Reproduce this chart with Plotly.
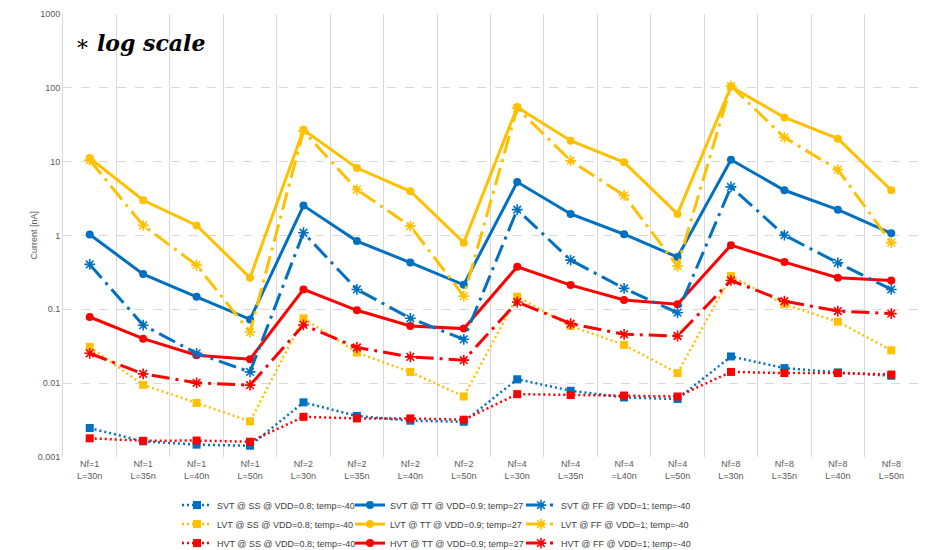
import plotly.graph_objects as go

categories = [
    "Nf=1<br>L=30n", "Nf=1<br>L=35n", "Nf=1<br>L=40n", "Nf=1<br>L=50n",
    "Nf=2<br>L=30n", "Nf=2<br>L=35n", "Nf=2<br>L=40n", "Nf=2<br>L=50n",
    "Nf=4<br>L=30n", "Nf=4<br>L=35n", "Nf=4<br>=L40n", "Nf=4<br>L=50n",
    "Nf=8<br>L=30n", "Nf=8<br>L=35n", "Nf=8<br>L=40n", "Nf=8<br>L=50n",
]

# Leakage current in nA per corner
svt_ss = [0.00247, 0.00163, 0.00147, 0.00142, 0.0055, 0.0036, 0.0031, 0.0030,
          0.0113, 0.0079, 0.0064, 0.0061, 0.023, 0.016, 0.014, 0.0126]
svt_tt = [1.03, 0.30, 0.148, 0.073, 2.54, 0.84, 0.43, 0.215,
          5.3, 1.96, 1.04, 0.51, 10.6, 4.1, 2.24, 1.07]
svt_ff = [0.406, 0.061, 0.0254, 0.0142, 1.09, 0.186, 0.0756, 0.0393,
          2.24, 0.464, 0.192, 0.090, 4.55, 1.01, 0.427, 0.186]

lvt_ss = [0.031, 0.0095, 0.0054, 0.00304, 0.0756, 0.026, 0.0142, 0.0066,
          0.148, 0.0595, 0.033, 0.0137, 0.282, 0.117, 0.068, 0.0279]
lvt_tt = [11.2, 3.0, 1.37, 0.268, 27.0, 8.2, 3.97, 0.80,
          54.8, 19.2, 9.8, 1.96, 104.0, 39.7, 20.5, 4.1]
lvt_ff = [10.5, 1.37, 0.397, 0.0493, 26.0, 4.19, 1.34, 0.151,
          53.0, 10.3, 3.5, 0.385, 106.0, 21.3, 7.8, 0.80]

hvt_ss = [0.00179, 0.00166, 0.00167, 0.00161, 0.0035, 0.00333, 0.00333, 0.0032,
          0.0071, 0.0069, 0.0068, 0.0066, 0.0142, 0.0137, 0.0137, 0.0131]
hvt_tt = [0.0787, 0.040, 0.0239, 0.0211, 0.186, 0.097, 0.0595, 0.0548,
          0.377, 0.213, 0.134, 0.117, 0.74, 0.436, 0.268, 0.246]
hvt_ff = [0.0254, 0.01335, 0.0101, 0.0094, 0.0614, 0.0304, 0.0227, 0.0205,
          0.1256, 0.064, 0.0459, 0.0435, 0.246, 0.129, 0.0948, 0.0875]

y_tick_vals = [0.001, 0.01, 0.1, 1, 10, 100, 1000]
y_tick_text = ["0.001", "0.01", "0.1", "1", "10", "100", "1000"]

BLUE = "#0070C0"
GOLD = "#FFC000"
RED = "#FF0000"

SS_DASH = "2px,3px"
FF_DASH = "18px,6px,3px,6px"

# one legend column per process corner
series = [
    ("SVT @ SS @ VDD=0.8; temp=-40", svt_ss, BLUE, "ss"),
    ("LVT @ SS @ VDD=0.8; temp=-40", lvt_ss, GOLD, "ss"),
    ("HVT @ SS @ VDD=0.8; temp=-40", hvt_ss, RED, "ss"),
    ("SVT @ TT @ VDD=0.9; temp=27", svt_tt, BLUE, "tt"),
    ("LVT @ TT @ VDD=0.9; temp=27", lvt_tt, GOLD, "tt"),
    ("HVT @ TT @ VDD=0.9; temp=27", hvt_tt, RED, "tt"),
    ("SVT @ FF @ VDD=1; temp=-40", svt_ff, BLUE, "ff"),
    ("LVT @ FF @ VDD=1; temp=-40", lvt_ff, GOLD, "ff"),
    ("HVT @ FF @ VDD=1; temp=-40", hvt_ff, RED, "ff"),
]
legend_for = {"ss": "legend", "tt": "legend2", "ff": "legend3"}

fig = go.Figure()
for name, values, color, corner in series:
    if corner == "ss":
        line = dict(color=color, width=2.5, dash=SS_DASH)
        marker = dict(symbol="square", size=8, color=color)
    elif corner == "tt":
        line = dict(color=color, width=3)
        marker = dict(symbol="circle", size=8, color=color)
    else:
        line = dict(color=color, width=3, dash=FF_DASH)
        marker = dict(symbol="asterisk-open", size=9, color=color,
                      line=dict(color=color, width=1.6))
    fig.add_trace(go.Scatter(
        x=categories, y=values, name=name, mode="lines+markers",
        line=line, marker=marker, legend=legend_for[corner],
    ))

fig.add_annotation(
    x=0.012, y=0.935, xref="paper", yref="paper",
    xanchor="left", yanchor="middle", showarrow=False,
    text="∗ <b><i>log scale</i></b>",
    font=dict(family="DejaVu Serif", size=22, color="#000000"),
)

# vertical axis title
fig.add_annotation(
    x=(33 - 63) / 855, y=0.5, xref="x domain", yref="paper",
    xanchor="center", yanchor="middle", showarrow=False, textangle=-90,
    text="Current [nA]",
    font=dict(family="Liberation Sans", size=9, color="#595959"),
)

legend_common = dict(
    orientation="v", xref="container", yref="container",
    xanchor="left", yanchor="top", y=0.108,
    font=dict(family="Liberation Sans", size=9, color="#404040"),
    itemwidth=30, bgcolor="rgba(0,0,0,0)",
)

fig.update_layout(
    width=926, height=550,
    margin=dict(l=63, r=8, t=14, b=93, autoexpand=False),
    paper_bgcolor="white", plot_bgcolor="white",
    font=dict(family="Liberation Sans", size=9, color="#595959"),
    showlegend=True,
    legend=dict(x=177 / 926, **legend_common),
    legend2=dict(x=350 / 926, **legend_common),
    legend3=dict(x=521 / 926, **legend_common),
)

fig.update_xaxes(
    type="category", tickson="boundaries",
    showgrid=True, gridcolor="#D9D9D9", gridwidth=1,
    showline=False, ticks="", tickfont=dict(size=9, color="#595959"),
    range=[-0.5, len(categories) - 0.5],
)
fig.update_yaxes(
    type="log", range=[-3, 3],
    tickvals=y_tick_vals, ticktext=y_tick_text,
    showgrid=True, gridcolor="#D9D9D9", gridwidth=1, griddash="dash",
    showline=True, linecolor="#D9D9D9", linewidth=1,
    zeroline=False, ticks="", tickfont=dict(size=9, color="#595959"),
)

fig.write_html("out.html")
